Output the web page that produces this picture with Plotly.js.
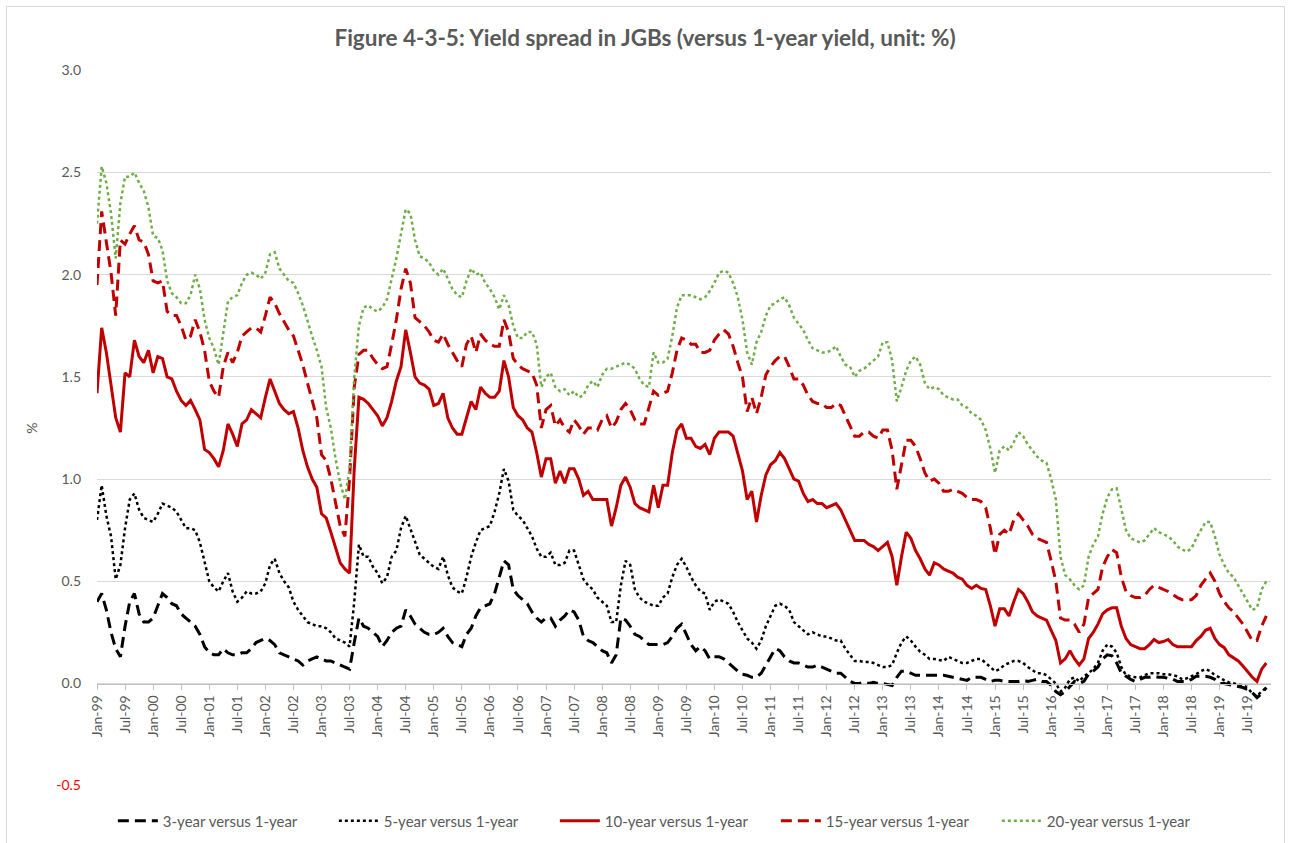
<!DOCTYPE html>
<html>
<head>
<meta charset="utf-8">
<script src="https://cdn.plot.ly/plotly-3.0.1.min.js"></script>
<style>
  html, body { margin: 0; padding: 0; background: #ffffff; }
  #chart { position: absolute; left: 0; top: 0; width: 1290px; height: 843px; }
  #frame { position: absolute; left: 6px; top: 6px; width: 1277px; height: 850px;
           border: 1px solid #d9d9d9; pointer-events: none; }
</style>
</head>
<body>
<div id="chart"></div>
<div id="frame"></div>
<script>
// ---- categories: monthly, Jan-99 .. Nov-19 ----
const monthNames = ['Jan','Feb','Mar','Apr','May','Jun','Jul','Aug','Sep','Oct','Nov','Dec'];
const firstYear = 1999, lastYear = 2019, lastMonthOfLastYear = 10; // Nov
const categories = [];
for (let y = firstYear; y <= lastYear; y++) {
  for (let m = 0; m < 12; m++) {
    if (y === lastYear && m > lastMonthOfLastYear) break;
    categories.push(monthNames[m] + '-' + String(y).slice(2));
  }
}
const tickLabels = categories.filter(c => c.startsWith('Jan') || c.startsWith('Jul'));

// ---- series values (%), one row per year ----
const spread3y = [
  0.40,0.44,0.36,0.25,0.17,0.13,0.28,0.40,0.44,0.34,0.30,0.30, // 1999
  0.32,0.38,0.44,0.42,0.39,0.38,0.34,0.32,0.30,0.28,0.24,0.18, // 2000
  0.15,0.14,0.14,0.17,0.15,0.14,0.14,0.15,0.15,0.17,0.20,0.21, // 2001
  0.22,0.21,0.19,0.15,0.14,0.13,0.12,0.11,0.09,0.11,0.12,0.13, // 2002
  0.12,0.11,0.11,0.10,0.09,0.08,0.07,0.20,0.32,0.28,0.27,0.25, // 2003
  0.23,0.18,0.21,0.25,0.27,0.28,0.36,0.33,0.29,0.27,0.25,0.24, // 2004
  0.24,0.25,0.27,0.23,0.20,0.19,0.18,0.24,0.27,0.33,0.37,0.38, // 2005
  0.39,0.44,0.52,0.60,0.58,0.46,0.43,0.41,0.39,0.35,0.32,0.30, // 2006
  0.32,0.32,0.28,0.31,0.33,0.36,0.35,0.31,0.23,0.21,0.20,0.18, // 2007
  0.16,0.15,0.10,0.14,0.32,0.31,0.28,0.24,0.23,0.21,0.19,0.19, // 2008
  0.19,0.19,0.20,0.23,0.27,0.29,0.24,0.19,0.16,0.18,0.16,0.12, // 2009
  0.13,0.13,0.12,0.10,0.08,0.06,0.045,0.04,0.03,0.03,0.05,0.09, // 2010
  0.13,0.17,0.16,0.13,0.11,0.10,0.10,0.09,0.08,0.08,0.09,0.08, // 2011
  0.07,0.06,0.05,0.05,0.03,0.01,0.00,0.00,0.005,0.00,0.005,0.00, // 2012
  0.00,-0.005,-0.01,0.03,0.06,0.06,0.05,0.04,0.04,0.04,0.04,0.04, // 2013
  0.04,0.04,0.035,0.03,0.025,0.02,0.015,0.03,0.03,0.03,0.02,0.01, // 2014
  0.015,0.015,0.01,0.01,0.01,0.01,0.015,0.01,0.015,0.02,0.01,0.01, // 2015
  -0.01,-0.04,-0.055,-0.04,-0.015,0.01,0.00,0.01,0.045,0.06,0.08,0.12, // 2016
  0.14,0.135,0.10,0.05,0.035,0.02,0.01,0.02,0.03,0.03,0.035,0.03, // 2017
  0.03,0.025,0.02,0.01,0.01,0.01,0.02,0.035,0.035,0.035,0.03,0.02, // 2018
  0.00,0.00,-0.005,-0.01,-0.015,-0.02,-0.03,-0.045,-0.07,-0.05,-0.02 // 2019
];
const spread5y = [
  0.80,0.97,0.82,0.72,0.51,0.58,0.76,0.90,0.93,0.85,0.81,0.80, // 1999
  0.79,0.83,0.88,0.87,0.86,0.84,0.80,0.76,0.76,0.75,0.69,0.60, // 2000
  0.50,0.47,0.45,0.50,0.54,0.45,0.40,0.42,0.45,0.44,0.44,0.45, // 2001
  0.49,0.58,0.61,0.54,0.50,0.47,0.40,0.36,0.33,0.30,0.29,0.28, // 2002
  0.28,0.27,0.25,0.22,0.21,0.20,0.18,0.40,0.68,0.62,0.62,0.57, // 2003
  0.54,0.49,0.52,0.62,0.65,0.76,0.82,0.76,0.69,0.63,0.61,0.59, // 2004
  0.57,0.56,0.62,0.53,0.47,0.45,0.44,0.52,0.62,0.69,0.75,0.76, // 2005
  0.77,0.84,0.93,1.05,0.99,0.85,0.82,0.80,0.76,0.72,0.66,0.62, // 2006
  0.62,0.64,0.58,0.58,0.59,0.65,0.65,0.58,0.51,0.48,0.46,0.42, // 2007
  0.40,0.38,0.30,0.30,0.48,0.60,0.58,0.46,0.42,0.40,0.39,0.38, // 2008
  0.38,0.42,0.44,0.52,0.58,0.61,0.57,0.52,0.48,0.45,0.44,0.36, // 2009
  0.40,0.41,0.40,0.39,0.35,0.30,0.26,0.22,0.20,0.17,0.21,0.28, // 2010
  0.33,0.38,0.39,0.38,0.36,0.30,0.28,0.26,0.24,0.25,0.24,0.23, // 2011
  0.23,0.22,0.21,0.21,0.17,0.14,0.11,0.11,0.105,0.105,0.10,0.09, // 2012
  0.08,0.08,0.09,0.15,0.20,0.23,0.21,0.18,0.155,0.14,0.12,0.12, // 2013
  0.115,0.11,0.13,0.12,0.11,0.10,0.10,0.11,0.12,0.12,0.10,0.08, // 2014
  0.06,0.07,0.09,0.10,0.11,0.11,0.10,0.08,0.065,0.05,0.05,0.04, // 2015
  0.02,0.00,-0.04,-0.02,0.02,0.03,0.01,0.035,0.05,0.07,0.10,0.16, // 2016
  0.19,0.18,0.15,0.08,0.04,0.035,0.03,0.03,0.04,0.05,0.05,0.05, // 2017
  0.045,0.045,0.04,0.035,0.02,0.025,0.035,0.045,0.06,0.07,0.06,0.04, // 2018
  0.03,0.015,0.005,0.00,-0.005,-0.01,-0.02,-0.05,-0.06,-0.04,-0.02 // 2019
];
const spread10y = [
  1.42,1.74,1.62,1.45,1.30,1.23,1.52,1.50,1.68,1.60,1.57,1.63, // 1999
  1.52,1.60,1.59,1.50,1.49,1.43,1.385,1.36,1.385,1.34,1.29,1.145, // 2000
  1.13,1.10,1.06,1.14,1.27,1.22,1.16,1.27,1.29,1.34,1.32,1.30, // 2001
  1.40,1.49,1.43,1.37,1.34,1.32,1.33,1.25,1.14,1.06,1.00,0.96, // 2002
  0.83,0.81,0.74,0.66,0.59,0.56,0.54,1.05,1.40,1.39,1.37,1.34, // 2003
  1.31,1.26,1.30,1.38,1.48,1.55,1.73,1.62,1.50,1.47,1.46,1.44, // 2004
  1.36,1.37,1.42,1.30,1.25,1.22,1.22,1.30,1.38,1.34,1.45,1.42, // 2005
  1.40,1.40,1.43,1.58,1.50,1.35,1.31,1.29,1.25,1.23,1.13,1.01, // 2006
  1.10,1.10,0.98,1.04,0.98,1.05,1.05,1.00,0.92,0.94,0.90,0.90, // 2007
  0.90,0.90,0.77,0.86,0.97,1.01,0.96,0.88,0.86,0.85,0.84,0.97, // 2008
  0.86,0.97,0.97,1.13,1.24,1.27,1.20,1.20,1.16,1.15,1.17,1.12, // 2009
  1.20,1.23,1.23,1.23,1.21,1.13,1.04,0.90,0.94,0.79,0.92,1.02, // 2010
  1.07,1.09,1.13,1.10,1.05,1.00,0.99,0.93,0.89,0.90,0.88,0.88, // 2011
  0.86,0.87,0.88,0.85,0.80,0.75,0.70,0.70,0.70,0.68,0.67,0.65, // 2012
  0.67,0.69,0.62,0.48,0.62,0.74,0.71,0.65,0.61,0.56,0.53,0.59, // 2013
  0.58,0.56,0.55,0.54,0.52,0.51,0.48,0.465,0.48,0.465,0.46,0.38, // 2014
  0.28,0.365,0.365,0.33,0.40,0.46,0.44,0.40,0.35,0.33,0.32,0.31, // 2015
  0.26,0.21,0.10,0.12,0.16,0.12,0.09,0.12,0.22,0.25,0.29,0.34, // 2016
  0.36,0.37,0.37,0.28,0.22,0.19,0.18,0.17,0.17,0.19,0.215,0.20, // 2017
  0.205,0.215,0.19,0.18,0.18,0.18,0.18,0.21,0.23,0.26,0.27,0.22, // 2018
  0.19,0.175,0.14,0.125,0.11,0.085,0.055,0.03,0.01,0.07,0.10 // 2019
];
const spread15y = [
  1.95,2.31,2.16,2.01,1.80,2.17,2.15,2.20,2.24,2.17,2.16,2.10, // 1999
  1.97,1.96,1.97,1.82,1.80,1.80,1.75,1.68,1.70,1.78,1.72,1.63, // 2000
  1.48,1.43,1.40,1.55,1.62,1.57,1.62,1.70,1.72,1.74,1.74,1.72, // 2001
  1.80,1.89,1.86,1.81,1.77,1.73,1.70,1.63,1.56,1.47,1.38,1.30, // 2002
  1.12,1.09,1.00,0.88,0.77,0.72,1.00,1.45,1.61,1.63,1.63,1.59, // 2003
  1.56,1.54,1.55,1.66,1.78,1.93,2.03,1.96,1.79,1.77,1.75,1.72, // 2004
  1.68,1.67,1.71,1.66,1.62,1.58,1.55,1.66,1.70,1.62,1.71,1.68, // 2005
  1.66,1.65,1.65,1.78,1.72,1.59,1.56,1.54,1.53,1.52,1.46,1.25, // 2006
  1.34,1.36,1.26,1.29,1.25,1.23,1.29,1.26,1.22,1.25,1.25,1.24, // 2007
  1.29,1.31,1.25,1.28,1.34,1.37,1.34,1.29,1.27,1.27,1.35,1.43, // 2008
  1.41,1.42,1.43,1.52,1.63,1.69,1.68,1.66,1.66,1.62,1.62,1.63, // 2009
  1.68,1.71,1.73,1.71,1.65,1.57,1.50,1.33,1.40,1.32,1.40,1.51, // 2010
  1.55,1.58,1.60,1.60,1.55,1.49,1.49,1.46,1.41,1.38,1.37,1.37, // 2011
  1.35,1.35,1.37,1.36,1.31,1.26,1.21,1.21,1.23,1.23,1.21,1.20, // 2012
  1.24,1.24,1.14,0.95,1.07,1.19,1.19,1.16,1.10,1.03,0.99,1.00, // 2013
  0.98,0.94,0.94,0.95,0.94,0.93,0.91,0.90,0.90,0.89,0.86,0.76, // 2014
  0.63,0.73,0.75,0.73,0.80,0.83,0.80,0.77,0.73,0.71,0.70,0.69, // 2015
  0.60,0.50,0.32,0.31,0.31,0.29,0.25,0.29,0.42,0.44,0.46,0.57, // 2016
  0.62,0.655,0.64,0.52,0.45,0.43,0.42,0.42,0.43,0.46,0.48,0.47, // 2017
  0.46,0.45,0.435,0.42,0.41,0.41,0.41,0.43,0.48,0.51,0.54,0.50, // 2018
  0.44,0.40,0.37,0.35,0.32,0.29,0.25,0.21,0.21,0.28,0.33 // 2019
];
const spread20y = [
  2.25,2.53,2.45,2.30,2.08,2.35,2.48,2.48,2.50,2.45,2.41,2.33, // 1999
  2.19,2.18,2.12,1.97,1.91,1.89,1.86,1.86,1.90,2.00,1.93,1.78, // 2000
  1.69,1.64,1.56,1.72,1.87,1.89,1.90,1.96,2.00,2.01,2.00,1.98, // 2001
  2.01,2.10,2.11,2.03,2.00,1.97,1.96,1.91,1.85,1.77,1.70,1.63, // 2002
  1.55,1.35,1.25,1.10,0.98,0.90,1.05,1.50,1.75,1.84,1.85,1.83, // 2003
  1.82,1.84,1.88,1.98,2.08,2.20,2.32,2.30,2.17,2.09,2.08,2.06, // 2004
  2.02,2.00,2.03,1.98,1.93,1.90,1.89,1.97,2.03,2.00,2.01,1.96, // 2005
  1.93,1.89,1.83,1.90,1.85,1.75,1.69,1.69,1.72,1.72,1.66,1.45, // 2006
  1.50,1.52,1.45,1.43,1.44,1.41,1.43,1.40,1.41,1.46,1.48,1.45, // 2007
  1.51,1.54,1.54,1.55,1.56,1.57,1.56,1.54,1.49,1.46,1.45,1.62, // 2008
  1.57,1.57,1.59,1.70,1.84,1.90,1.90,1.90,1.89,1.88,1.89,1.92, // 2009
  1.96,2.01,2.02,2.01,1.96,1.89,1.78,1.62,1.56,1.67,1.72,1.80, // 2010
  1.85,1.86,1.88,1.89,1.85,1.79,1.76,1.73,1.68,1.64,1.63,1.62, // 2011
  1.62,1.63,1.65,1.60,1.56,1.55,1.50,1.53,1.54,1.56,1.58,1.60, // 2012
  1.67,1.67,1.58,1.38,1.45,1.53,1.58,1.60,1.56,1.47,1.44,1.45, // 2013
  1.44,1.41,1.40,1.39,1.39,1.36,1.35,1.32,1.31,1.29,1.24,1.15, // 2014
  1.03,1.14,1.16,1.14,1.18,1.23,1.21,1.17,1.14,1.11,1.09,1.08, // 2015
  1.00,0.90,0.62,0.53,0.51,0.48,0.46,0.48,0.62,0.68,0.72,0.83, // 2016
  0.91,0.95,0.955,0.86,0.75,0.71,0.70,0.69,0.70,0.73,0.76,0.74, // 2017
  0.73,0.72,0.70,0.67,0.655,0.645,0.66,0.71,0.75,0.79,0.79,0.72, // 2018
  0.63,0.58,0.54,0.52,0.48,0.44,0.40,0.36,0.37,0.46,0.50 // 2019
];

// y-axis tick labels
const yTickVals = [-0.5, 0.0, 0.5, 1.0, 1.5, 2.0, 2.5, 3.0];
const yTickText = ['<span style="color:#ff0000">-0.5</span>', '0.0', '0.5', '1.0', '1.5', '2.0', '2.5', '3.0'];

const seriesNames = ['3-year versus 1-year', '5-year versus 1-year', '10-year versus 1-year',
                     '15-year versus 1-year', '20-year versus 1-year'];

const FONT = 'Lato, "Open Sans", "Liberation Sans", sans-serif';
const GREY = '#595959';

function line(name, y, color, width, dash) {
  return { type: 'scatter', mode: 'lines', name: name, x: categories, y: y,
           line: { color: color, width: width, dash: dash }, hoverinfo: 'x+y+name' };
}

const traces = [
  line(seriesNames[0], spread3y, '#000000', 3, '11px,6px'),
  line(seriesNames[1], spread5y, '#000000', 2.5, 'dot'),
  line(seriesNames[2], spread10y, '#c00000', 3, 'solid'),
  line(seriesNames[3], spread15y, '#c00000', 3, '11px,6px'),
  line(seriesNames[4], spread20y, '#70ad47', 2.5, 'dot')
];

const layout = {
  width: 1290, height: 843,
  margin: { l: 97, r: 19, t: 70, b: 57, autoexpand: false },
  paper_bgcolor: '#ffffff', plot_bgcolor: '#ffffff',
  font: { family: FONT, size: 14, color: GREY },
  title: { text: '<b>Figure 4-3-5: Yield spread in JGBs (versus 1-year yield, unit: %)</b>',
           font: { family: FONT, size: 22.5, color: GREY },
           x: 0.5, xanchor: 'center', xref: 'container',
           y: 1 - 38 / 843, yanchor: 'middle', yref: 'container' },
  xaxis: {
    type: 'category',
    range: [0, 251],
    anchor: 'free', position: 0.5 / 3.5,
    tickmode: 'array', tickvals: tickLabels, ticktext: tickLabels,
    tickangle: -90,
    ticks: 'outside', ticklen: 5, tickcolor: '#bfbfbf', tickwidth: 1,
    showline: true, linecolor: '#bfbfbf', linewidth: 1,
    showgrid: false, zeroline: false,
    tickfont: { family: FONT, size: 14, color: GREY }
  },
  yaxis: {
    range: [-0.502, 3.002],
    tickmode: 'array', tickvals: yTickVals, ticktext: yTickText,
    showgrid: true, gridcolor: '#d9d9d9', gridwidth: 1,
    zeroline: false, showline: false, ticks: '',
    ticklabelstandoff: 15,
    tickfont: { family: FONT, size: 14, color: GREY },
    title: { text: '%', font: { family: FONT, size: 14, color: GREY }, standoff: 15 }
  },
  showlegend: true,
  legend: {
    orientation: 'h',
    x: 0.0135, xanchor: 'left',
    y: -35 / 716, yanchor: 'middle',
    entrywidth: 166, entrywidthmode: 'pixels',
    itemwidth: 40,
    font: { family: FONT, size: 15, color: GREY },
    bgcolor: 'rgba(0,0,0,0)'
  }
};

Plotly.newPlot('chart', traces, layout, { displayModeBar: false, responsive: false });
</script>
</body>
</html>
